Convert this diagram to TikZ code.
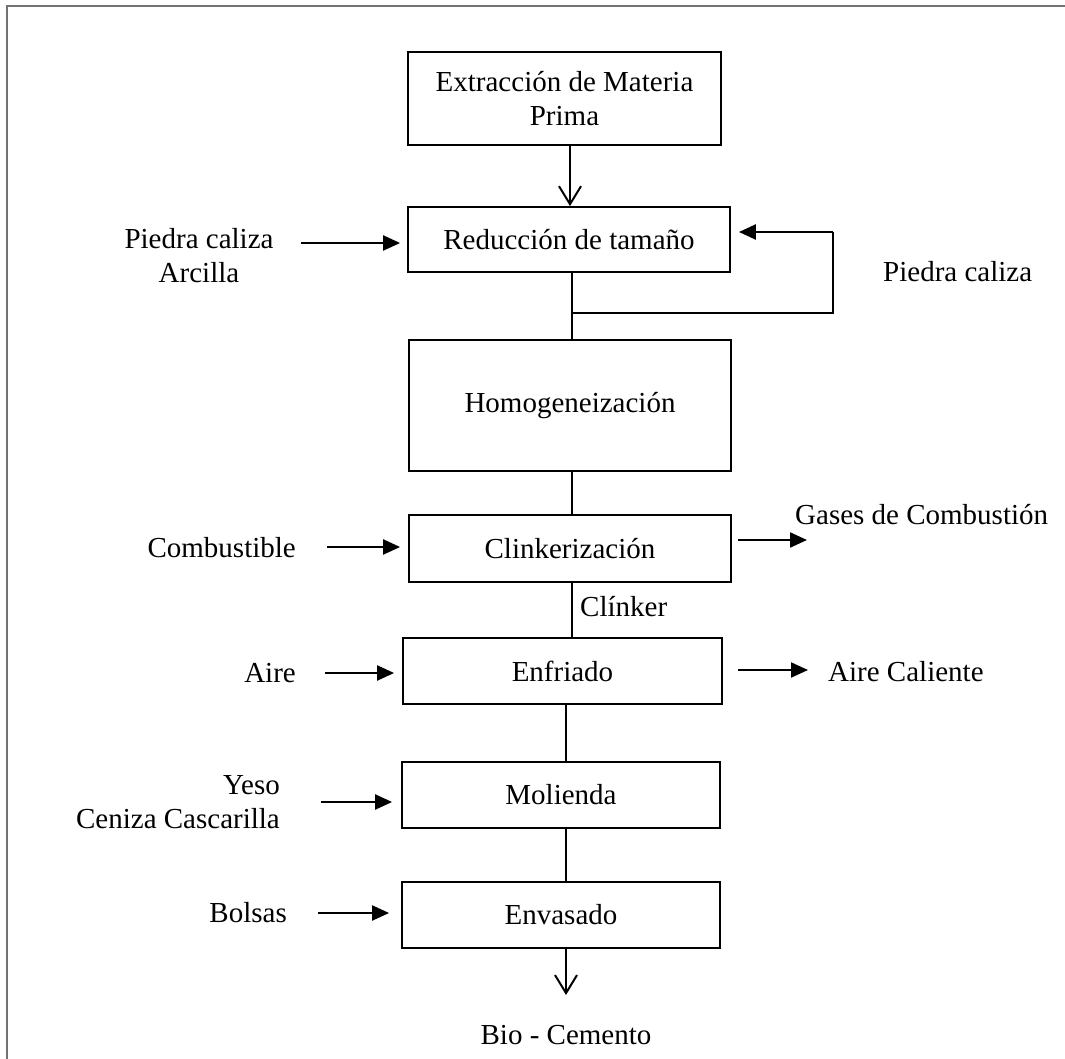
\documentclass[tikz,border=0pt]{standalone}
\usepackage{fontspec}
\setmainfont{Liberation Serif}
\usetikzlibrary{arrows.meta}
\begin{document}
\begin{tikzpicture}[x=1pt,y=-1pt,
  proc/.style={draw,line width=1.8pt,align=center,inner sep=0pt,font=\fontsize{29}{34}\selectfont},
  lbl/.style={inner sep=0pt,font=\fontsize{29}{34}\selectfont},
  flow/.style={line width=1.5pt},
  feed/.style={line width=2.2pt,-{Triangle[length=17pt,width=15pt]}},
  outv/.style={line width=1.8pt,-{Straight Barb[length=18pt,width=22pt,line width=2pt]}}]
\useasboundingbox (0,0) rectangle (1065,1059);
% frame
\draw[line width=2pt,color=black!55] (6.5,1070) -- (6.5,6.5) -- (1070,6.5);

% process boxes
\node[proc,minimum width=313pt,minimum height=93pt] (b1) at (564.5,98.5) {Extracción de Materia\\Prima};
\node[proc,minimum width=322pt,minimum height=65pt] (b2) at (569,239.5) {Reducción de tamaño};
\node[proc,minimum width=322pt,minimum height=131pt] (b3) at (570,405.5) {Homogeneización};
\node[proc,minimum width=322pt,minimum height=67pt] (b4) at (570,548.5) {Clinkerización};
\node[proc,minimum width=319pt,minimum height=66pt] (b5) at (562.5,671) {Enfriado};
\node[proc,minimum width=318pt,minimum height=66pt] (b6) at (561,795) {Molienda};
\node[proc,minimum width=318pt,minimum height=66pt] (b7) at (561,915) {Envasado};

% main stream x positions
\coordinate (xa) at (570,0);
\coordinate (xb) at (572,0);
\coordinate (xc) at (566,0);

\draw[outv] (xa |- b1.south) -- (xa |- b2.north);
\draw[flow] (xb |- b2.south) -- (xb |- b3.north);
\draw[flow] (xb |- b3.south) -- (xb |- b4.north);
\draw[flow] (xb |- b4.south) -- (xb |- b5.north);
\draw[flow] (xc |- b5.south) -- (xc |- b6.north);
\draw[flow] (xc |- b6.south) -- (xc |- b7.north);

% recycle loop
\coordinate (jn) at (572,313);
\coordinate (lr) at (833,313);
\coordinate (ur) at (833,232);
\draw[flow] (jn) -- (lr) -- (ur);
\draw[feed] (ur) -- ([xshift=8pt]b2.east |- ur);
\node[lbl,anchor=west] (rpc) at (883,272) {Piedra caliza};

% product
\node[lbl] (prod) at (566,1035) {Bio - Cemento};
\coordinate (pt) at (566,995);
\draw[outv] (xc |- b7.south) -- (pt);

% feeds on the left
\node[lbl,align=center] (f2) at (199,256) {Piedra caliza\\Arcilla};
\coordinate (t2) at (301,243);
\draw[feed] (t2) -- ([xshift=-7pt]b2.west |- t2);

\node[lbl,anchor=east] (f4) at (296,548) {Combustible};
\coordinate (t4) at (327,547);
\draw[feed] (t4) -- ([xshift=-8pt]b4.west |- t4);

\node[lbl,anchor=east] (f5) at (296,673) {Aire};
\coordinate (t5) at (325,673);
\draw[feed] (t5) -- ([xshift=-8pt]b5.west |- t5);

\node[lbl,align=right,anchor=east] (f6) at (280,802) {Yeso\\Ceniza Cascarilla};
\coordinate (t6) at (321,802);
\draw[feed] (t6) -- ([xshift=-9pt]b6.west |- t6);

\node[lbl,anchor=east] (f7) at (287,913) {Bolsas};
\coordinate (t7) at (318,913);
\draw[feed] (t7) -- ([xshift=-12pt]b7.west |- t7);

% outputs on the right
\coordinate (o4) at (807,540);
\draw[feed] ([xshift=6pt]b4.east |- o4) -- (o4);
\node[lbl,anchor=west] (g4) at (795,515) {Gases de Combustión};

\coordinate (o5) at (808,670);
\draw[feed] ([xshift=15pt]b5.east |- o5) -- (o5);
\node[lbl,anchor=west] (g5) at (828,672) {Aire Caliente};

% stream label
\node[lbl,anchor=west] (clk) at (580,607) {Clínker};
\end{tikzpicture}
\end{document}
